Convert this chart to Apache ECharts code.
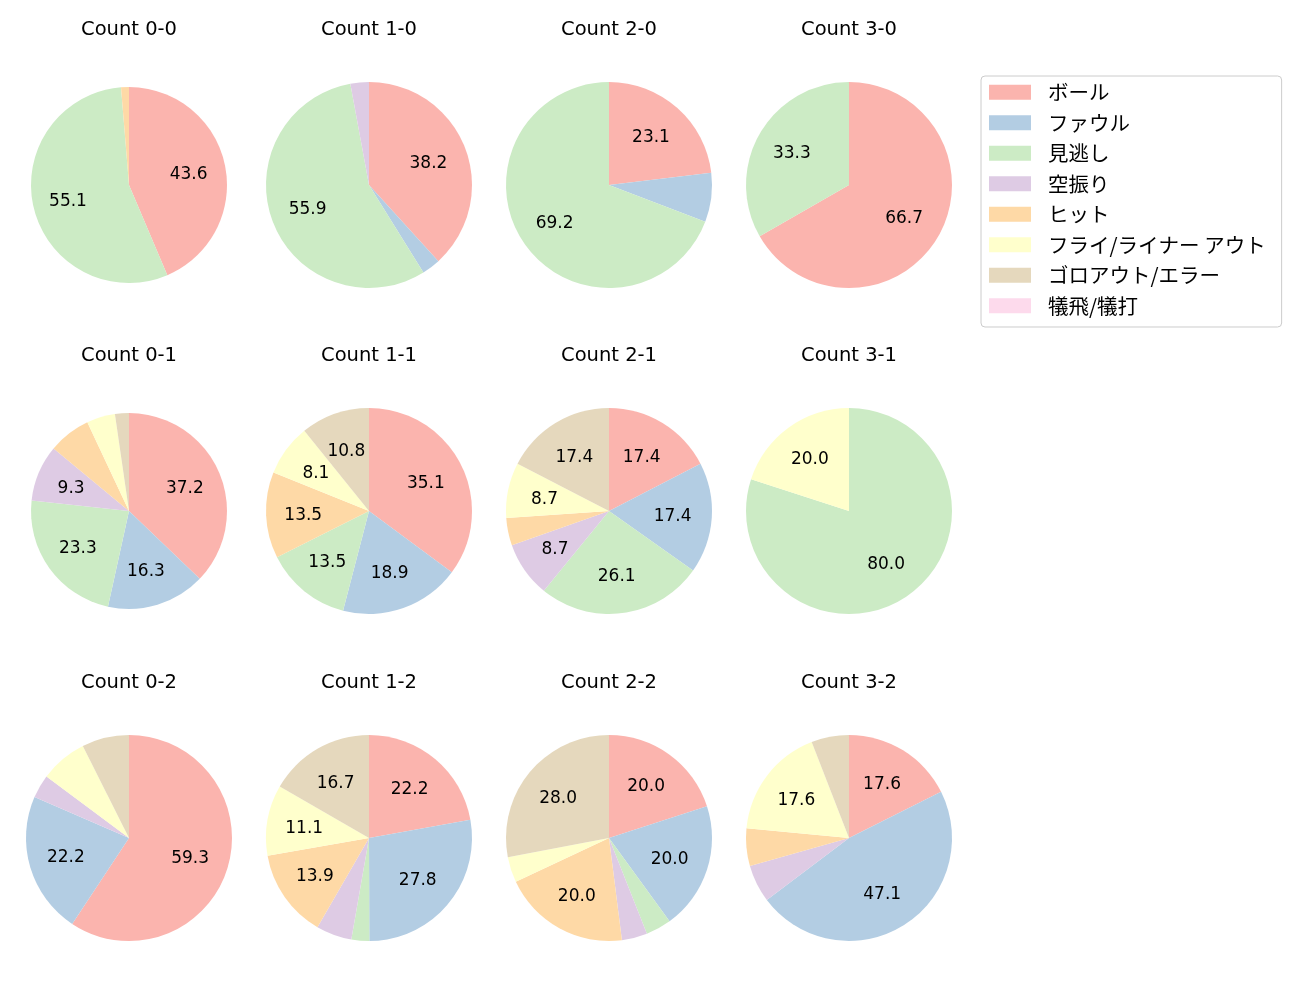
<!DOCTYPE html>
<html>
<head>
<meta charset="utf-8">
<script src="https://cdn.jsdelivr.net/npm/echarts@6/dist/echarts.min.js"></script>
<style>
html,body{margin:0;padding:0;background:#fff;}
#chart{width:1300px;height:1000px;}
</style>
</head>
<body>
<div id="chart"></div>
<script>
// Panel titles (row-major: 3 rows x 4 columns)
const panelTitles = ['Count 0-0','Count 1-0','Count 2-0','Count 3-0',
                     'Count 0-1','Count 1-1','Count 2-1','Count 3-1',
                     'Count 0-2','Count 1-2','Count 2-2','Count 3-2'];
// Categories (legend order)
const categories = ['ボール','ファウル','見逃し','空振り','ヒット','フライ/ライナー アウト','ゴロアウト/エラー','犠飛/犠打'];
// Percentages per category, one value per panel (same order as panelTitles)
const ball    = [43.6, 38.2, 23.1, 66.7, 37.2, 35.1, 17.4,  0.0, 59.3, 22.2, 20.0, 17.6];
const foul    = [ 0.0,  2.9,  7.7,  0.0, 16.3, 18.9, 17.4,  0.0, 22.2, 27.8, 20.0, 47.1];
const looking = [55.1, 55.9, 69.2, 33.3, 23.3, 13.5, 26.1, 80.0,  0.0,  2.8,  4.0,  0.0];
const swinging= [ 0.0,  2.9,  0.0,  0.0,  9.3,  0.0,  8.7,  0.0,  3.7,  5.6,  4.0,  5.9];
const hit     = [ 1.3,  0.0,  0.0,  0.0,  7.0, 13.5,  4.3,  0.0,  0.0, 13.9, 20.0,  5.9];
const flyOut  = [ 0.0,  0.0,  0.0,  0.0,  4.7,  8.1,  8.7, 20.0,  7.4, 11.1,  4.0, 17.6];
const groundOut=[ 0.0,  0.0,  0.0,  0.0,  2.3, 10.8, 17.4,  0.0,  7.4, 16.7, 28.0,  5.9];
const sacrifice=[ 0.0,  0.0,  0.0,  0.0,  0.0,  0.0,  0.0,  0.0,  0.0,  0.0,  0.0,  0.0];

const seriesValues = [ball, foul, looking, swinging, hit, flyOut, groundOut, sacrifice];
const palette = ['#fbb4ae','#b3cde3','#ccebc5','#decbe4','#fed9a6','#ffffcc','#e5d8bd','#fddaec'];

// layout
const colX = [129, 369, 609, 849];
const rowY = [185, 511, 838];
const LATIN = '"DejaVu Sans", "Noto Sans CJK JP", sans-serif';
const CJK = '"Noto Sans CJK JP", sans-serif';

const series = [];
const labelSeries = [];
const titles = [];
panelTitles.forEach((t, i) => {
  const col = i % 4, row = Math.floor(i / 4);
  const r = (i === 0 || i === 4) ? 98 : 103;
  const cx = colX[col], cy = rowY[row];
  const data = categories.map((name, k) => ({
    name, value: seriesValues[k][i], itemStyle: {color: palette[k]}
  }));
  series.push({
    type: 'pie', name: t, center: [cx, cy], radius: [0, r],
    startAngle: 90, clockwise: true, avoidLabelOverlap: false,
    label: {show: false}, labelLine: {show: false},
    emphasis: {disabled: true},
    data: data
  });
  labelSeries.push({
    type: 'pie', name: t + ' labels', center: [cx, cy], radius: [r * 0.2, r],
    startAngle: 90, clockwise: true, avoidLabelOverlap: false, silent: true,
    itemStyle: {color: 'rgba(0,0,0,0)'},
    label: {
      show: true, position: 'inside', color: '#000', fontFamily: LATIN, fontSize: 17,
      offset: [-1, 1.5],
      formatter: p => (p.value >= 8 ? p.value.toFixed(1) : '')
    },
    labelLine: {show: false},
    emphasis: {disabled: true},
    data: categories.map((name, k) => ({name, value: seriesValues[k][i], itemStyle: {color: 'rgba(0,0,0,0)'}}))
  });
  titles.push({
    text: t, left: cx, top: cy - 155, padding: 0, textAlign: 'center', textVerticalAlign: 'middle',
    textStyle: {fontFamily: LATIN, fontSize: 19.5, fontWeight: 'normal', color: '#000'}
  });
});

const chart = echarts.init(document.getElementById('chart'), null, {renderer: 'canvas'});
chart.setOption({
  animation: false,
  backgroundColor: '#fff',
  title: titles,
  legend: {
    orient: 'vertical', left: 981, top: 76,
    padding: [6, 16, 11, 8],
    borderColor: '#cccccc', borderWidth: 1, borderRadius: 4,
    itemWidth: 42, itemHeight: 15, itemGap: 10.0,
    icon: 'rect',
    textStyle: {fontFamily: CJK, fontSize: 20.5, color: '#000', padding: [0, 0, 0, 12], lineHeight: 20},
    selectedMode: false,
    data: categories.map((name, k) => ({name, itemStyle: {color: palette[k]}}))
  },
  series: series.concat(labelSeries)
});
</script>
</body>
</html>
